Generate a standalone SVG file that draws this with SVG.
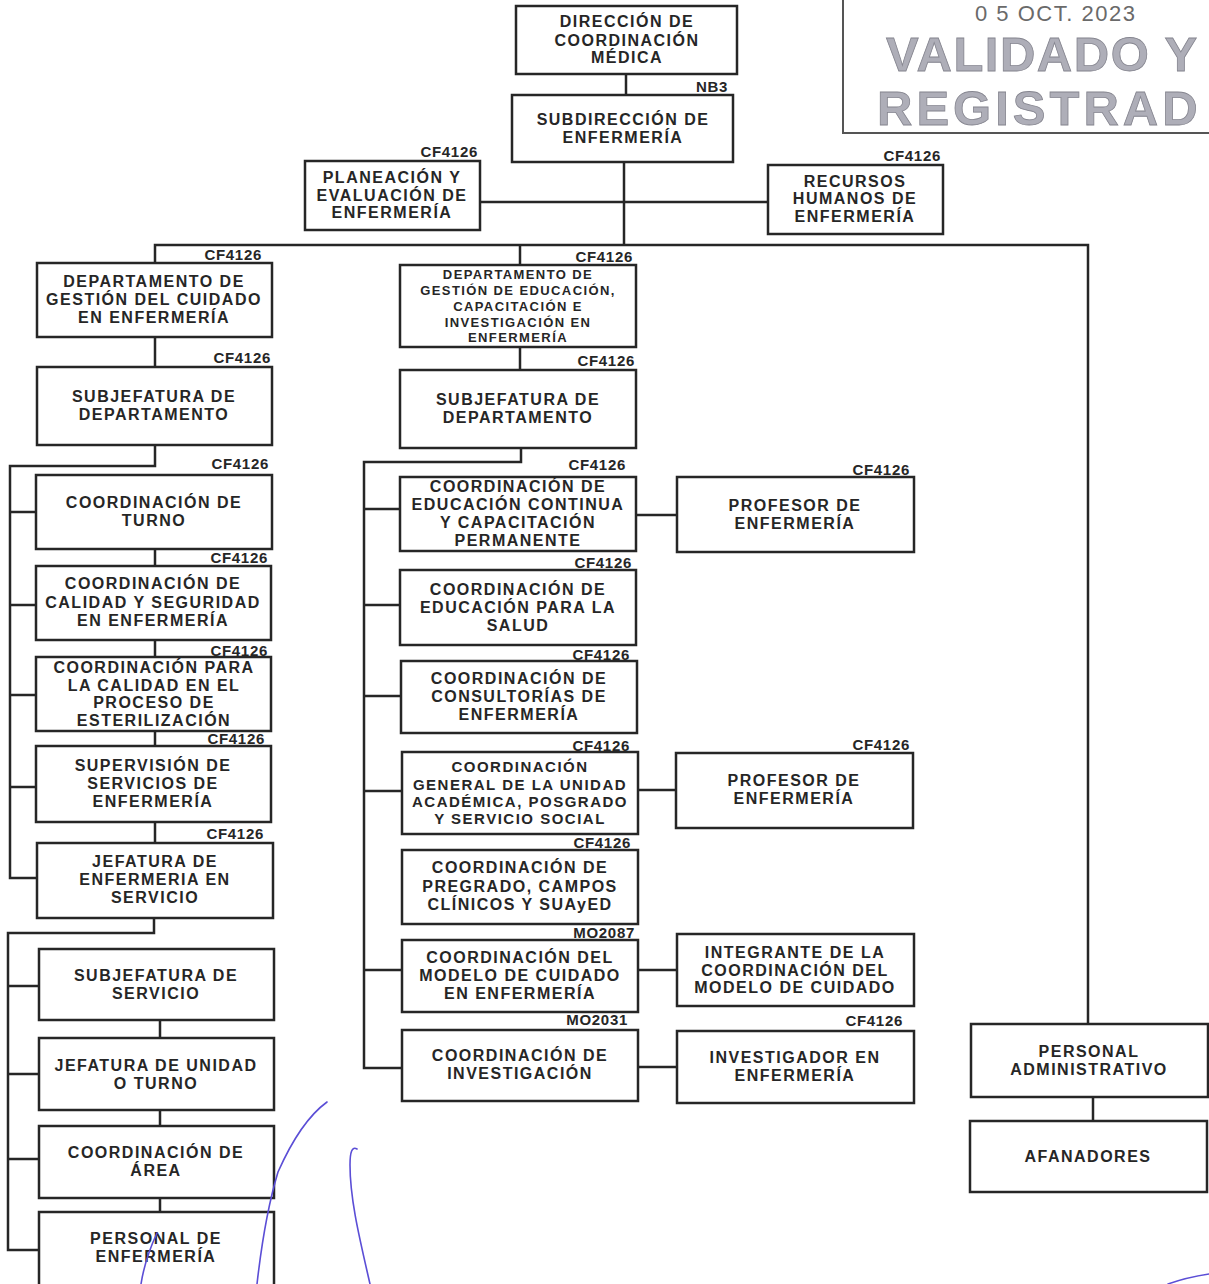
<svg xmlns="http://www.w3.org/2000/svg" width="1209" height="1284" viewBox="0 0 1209 1284">
<style>
.box{fill:#fff;stroke:#262626;stroke-width:2.5}
.ln{fill:none;stroke:#262626;stroke-width:2.5}
.t{font-family:"Liberation Sans",Arial,sans-serif;font-weight:bold;font-size:16px;fill:#262626;text-anchor:middle;letter-spacing:1.5px}
.s13{font-size:13px;letter-spacing:1.4px}
.s15{font-size:15px}
.lbl{font-family:"Liberation Sans",Arial,sans-serif;font-weight:bold;font-size:15px;fill:#262626;text-anchor:end;letter-spacing:0.7px}
.stamp{font-family:"Liberation Sans",Arial,sans-serif;font-weight:bold;font-size:49px;fill:#aeaeb8;stroke:#85858f;stroke-width:0.8}
.pen{fill:none;stroke:#5b4ed6;stroke-width:1.6;stroke-linecap:round}
</style>
<rect width="1209" height="1284" fill="#fff"/>
<g id="stamp">
<path d="M843,0 V133 H1209" fill="none" stroke="#555" stroke-width="2"/>
<text x="975" y="21" font-family="Liberation Sans,Arial,sans-serif" font-size="22" fill="#6a6a6a" letter-spacing="1.5">0 5 OCT. 2023</text>
<text class="stamp" x="886" y="71" letter-spacing="1.5">VALIDADO Y</text>
<text class="stamp" x="877" y="125" letter-spacing="4">REGISTRAD</text>
</g>
<g id="connectors">
<path class="ln" d="M626,74 V95"/>
<path class="ln" d="M624,162 V245"/>
<path class="ln" d="M480,202 H768"/>
<path class="ln" d="M155,263 V245 H1088 V1024"/>
<path class="ln" d="M520,245 V265"/>
<path class="ln" d="M155,337 V367"/>
<path class="ln" d="M520,347 V370"/>
<path class="ln" d="M155,445 V466 H10 V878 H37"/>
<path class="ln" d="M10,512 H36 M10,605 H36 M10,695 H36 M10,787 H36"/>
<path class="ln" d="M155,549 V566 M155,640 V657 M155,731 V746 M155,822 V843"/>
<path class="ln" d="M154,918 V933 H8 V1250 H39"/>
<path class="ln" d="M8,986 H39 M8,1074 H39 M8,1159 H39"/>
<path class="ln" d="M160,1020 V1038 M160,1110 V1126 M160,1198 V1212"/>
<path class="ln" d="M521,448 V462 H364 V1068 H402"/>
<path class="ln" d="M364,509 H400 M364,605 H400 M364,696 H401 M364,791 H402 M364,970 H402"/>
<path class="ln" d="M636,515 H677 M638,790 H676 M638,970 H677 M638,1067 H677"/>
<path class="ln" d="M1093,1097 V1121"/>
</g>
<g id="n-direccion"><rect class="box" x="516" y="6" width="221" height="68"/>
<text class="t" x="627"><tspan x="627" y="27">DIRECCIÓN DE</tspan><tspan x="627" y="46">COORDINACIÓN</tspan><tspan x="627" y="63">MÉDICA</tspan></text></g>
<g id="n-subdireccion"><rect class="box" x="512" y="95" width="221" height="67"/>
<text class="lbl" x="728" y="92">NB3</text>
<text class="t"><tspan x="623" y="125">SUBDIRECCIÓN DE</tspan><tspan x="623" y="143">ENFERMERÍA</tspan></text></g>
<g id="n-planeacion"><rect class="box" x="305" y="161" width="175" height="69"/>
<text class="lbl" x="478" y="157">CF4126</text>
<text class="t"><tspan x="392" y="183">PLANEACIÓN Y</tspan><tspan x="392" y="201">EVALUACIÓN DE</tspan><tspan x="392" y="218">ENFERMERÍA</tspan></text></g>
<g id="n-recursos"><rect class="box" x="768" y="165" width="175" height="69"/>
<text class="lbl" x="941" y="161">CF4126</text>
<text class="t"><tspan x="855" y="187">RECURSOS</tspan><tspan x="855" y="204">HUMANOS DE</tspan><tspan x="855" y="222">ENFERMERÍA</tspan></text></g>
<g id="n-dept-cuidado"><rect class="box" x="37" y="263" width="235" height="74"/>
<text class="lbl" x="262" y="260">CF4126</text>
<text class="t"><tspan x="154" y="287">DEPARTAMENTO DE</tspan><tspan x="154" y="305">GESTIÓN DEL CUIDADO</tspan><tspan x="154" y="323">EN ENFERMERÍA</tspan></text></g>
<g id="n-dept-educacion"><rect class="box" x="400" y="265" width="236" height="82"/>
<text class="lbl" x="633" y="262">CF4126</text>
<text class="t s13"><tspan x="518" y="279">DEPARTAMENTO DE</tspan><tspan x="518" y="295">GESTIÓN DE EDUCACIÓN,</tspan><tspan x="518" y="311">CAPACITACIÓN E</tspan><tspan x="518" y="327">INVESTIGACIÓN EN</tspan><tspan x="518" y="342">ENFERMERÍA</tspan></text></g>
<g id="n-subjef-izq"><rect class="box" x="37" y="367" width="235" height="78"/>
<text class="lbl" x="271" y="363">CF4126</text>
<text class="t"><tspan x="154" y="402">SUBJEFATURA DE</tspan><tspan x="154" y="420">DEPARTAMENTO</tspan></text></g>
<g id="n-subjef-centro"><rect class="box" x="400" y="370" width="236" height="78"/>
<text class="lbl" x="635" y="366">CF4126</text>
<text class="t"><tspan x="518" y="405">SUBJEFATURA DE</tspan><tspan x="518" y="423">DEPARTAMENTO</tspan></text></g>
<g id="n-coord-turno"><rect class="box" x="36" y="475" width="236" height="74"/>
<text class="lbl" x="269" y="469">CF4126</text>
<text class="t"><tspan x="154" y="508">COORDINACIÓN DE</tspan><tspan x="154" y="526">TURNO</tspan></text></g>
<g id="n-coord-calidad"><rect class="box" x="36" y="566" width="235" height="74"/>
<text class="lbl" x="268" y="563">CF4126</text>
<text class="t"><tspan x="153" y="589">COORDINACIÓN DE</tspan><tspan x="153" y="608">CALIDAD Y SEGURIDAD</tspan><tspan x="153" y="626">EN ENFERMERÍA</tspan></text></g>
<g id="n-coord-esterilizacion"><rect class="box" x="36" y="657" width="235" height="74"/>
<text class="lbl" x="268" y="656">CF4126</text>
<text class="t"><tspan x="154" y="673">COORDINACIÓN PARA</tspan><tspan x="154" y="691">LA CALIDAD EN EL</tspan><tspan x="154" y="708">PROCESO DE</tspan><tspan x="154" y="726">ESTERILIZACIÓN</tspan></text></g>
<g id="n-supervision"><rect class="box" x="36" y="746" width="235" height="76"/>
<text class="lbl" x="265" y="744">CF4126</text>
<text class="t"><tspan x="153" y="771">SUPERVISIÓN DE</tspan><tspan x="153" y="789">SERVICIOS DE</tspan><tspan x="153" y="807">ENFERMERÍA</tspan></text></g>
<g id="n-jefatura-enf"><rect class="box" x="37" y="843" width="236" height="75"/>
<text class="lbl" x="264" y="839">CF4126</text>
<text class="t"><tspan x="155" y="867">JEFATURA DE</tspan><tspan x="155" y="885">ENFERMERIA EN</tspan><tspan x="155" y="903">SERVICIO</tspan></text></g>
<g id="n-subjef-servicio"><rect class="box" x="39" y="949" width="235" height="71"/>
<text class="t"><tspan x="156" y="981">SUBJEFATURA DE</tspan><tspan x="156" y="999">SERVICIO</tspan></text></g>
<g id="n-jefatura-unidad"><rect class="box" x="39" y="1038" width="235" height="72"/>
<text class="t"><tspan x="156" y="1071">JEFATURA DE UNIDAD</tspan><tspan x="156" y="1089">O TURNO</tspan></text></g>
<g id="n-coord-area"><rect class="box" x="39" y="1126" width="235" height="72"/>
<text class="t"><tspan x="156" y="1158">COORDINACIÓN DE</tspan><tspan x="156" y="1176">ÁREA</tspan></text></g>
<g id="n-personal-enf"><rect class="box" x="39" y="1212" width="235" height="80"/>
<text class="t"><tspan x="156" y="1244">PERSONAL DE</tspan><tspan x="156" y="1262">ENFERMERÍA</tspan></text></g>
<g id="n-educ-continua"><rect class="box" x="400" y="477" width="236" height="74"/>
<text class="lbl" x="626" y="470">CF4126</text>
<text class="t"><tspan x="518" y="492">COORDINACIÓN DE</tspan><tspan x="518" y="510">EDUCACIÓN CONTINUA</tspan><tspan x="518" y="528">Y CAPACITACIÓN</tspan><tspan x="518" y="546">PERMANENTE</tspan></text></g>
<g id="n-profesor-1"><rect class="box" x="677" y="477" width="237" height="75"/>
<text class="lbl" x="910" y="475">CF4126</text>
<text class="t"><tspan x="795" y="511">PROFESOR DE</tspan><tspan x="795" y="529">ENFERMERÍA</tspan></text></g>
<g id="n-educ-salud"><rect class="box" x="400" y="570" width="236" height="75"/>
<text class="lbl" x="632" y="568">CF4126</text>
<text class="t"><tspan x="518" y="595">COORDINACIÓN DE</tspan><tspan x="518" y="613">EDUCACIÓN PARA LA</tspan><tspan x="518" y="631">SALUD</tspan></text></g>
<g id="n-consultorias"><rect class="box" x="401" y="661" width="236" height="72"/>
<text class="lbl" x="630" y="660">CF4126</text>
<text class="t"><tspan x="519" y="684">COORDINACIÓN DE</tspan><tspan x="519" y="702">CONSULTORÍAS DE</tspan><tspan x="519" y="720">ENFERMERÍA</tspan></text></g>
<g id="n-unidad-academica"><rect class="box" x="402" y="752" width="236" height="82"/>
<text class="lbl" x="630" y="751">CF4126</text>
<text class="t s15"><tspan x="520" y="772">COORDINACIÓN</tspan><tspan x="520" y="790">GENERAL DE LA UNIDAD</tspan><tspan x="520" y="807">ACADÉMICA, POSGRADO</tspan><tspan x="520" y="824">Y SERVICIO SOCIAL</tspan></text></g>
<g id="n-profesor-2"><rect class="box" x="676" y="753" width="237" height="75"/>
<text class="lbl" x="910" y="750">CF4126</text>
<text class="t"><tspan x="794" y="786">PROFESOR DE</tspan><tspan x="794" y="804">ENFERMERÍA</tspan></text></g>
<g id="n-pregrado"><rect class="box" x="402" y="850" width="236" height="74"/>
<text class="lbl" x="631" y="848">CF4126</text>
<text class="t"><tspan x="520" y="873">COORDINACIÓN DE</tspan><tspan x="520" y="892">PREGRADO, CAMPOS</tspan><tspan x="520" y="910">CLÍNICOS Y SUAyED</tspan></text></g>
<g id="n-modelo"><rect class="box" x="402" y="940" width="236" height="72"/>
<text class="lbl" x="635" y="938">MO2087</text>
<text class="t"><tspan x="520" y="963">COORDINACIÓN DEL</tspan><tspan x="520" y="981">MODELO DE CUIDADO</tspan><tspan x="520" y="999">EN ENFERMERÍA</tspan></text></g>
<g id="n-integrante"><rect class="box" x="677" y="934" width="237" height="72"/>
<text class="t"><tspan x="795" y="958">INTEGRANTE DE LA</tspan><tspan x="795" y="976">COORDINACIÓN DEL</tspan><tspan x="795" y="993">MODELO DE CUIDADO</tspan></text></g>
<g id="n-investigacion"><rect class="box" x="402" y="1030" width="236" height="71"/>
<text class="lbl" x="628" y="1025">MO2031</text>
<text class="t"><tspan x="520" y="1061">COORDINACIÓN DE</tspan><tspan x="520" y="1079">INVESTIGACIÓN</tspan></text></g>
<g id="n-investigador"><rect class="box" x="677" y="1031" width="237" height="72"/>
<text class="lbl" x="903" y="1026">CF4126</text>
<text class="t"><tspan x="795" y="1063">INVESTIGADOR EN</tspan><tspan x="795" y="1081">ENFERMERÍA</tspan></text></g>
<g id="n-personal-admin"><rect class="box" x="971" y="1024" width="237" height="73"/>
<text class="t"><tspan x="1089" y="1057">PERSONAL</tspan><tspan x="1089" y="1075">ADMINISTRATIVO</tspan></text></g>
<g id="n-afanadores"><rect class="box" x="970" y="1121" width="237" height="71"/>
<text class="t" x="1088" y="1162">AFANADORES</text></g>
<g id="pen">
<path class="pen" d="M327,1102 C305,1118 290,1145 278,1172 C268,1205 262,1240 257,1284"/>
<path class="pen" d="M157,1233 C150,1248 144,1265 141,1284"/>
<path class="pen" d="M357,1149 C352,1146 350,1152 350,1165 C350,1200 360,1240 370,1284"/>
<path class="pen" d="M1168,1284 C1182,1279 1196,1276 1209,1274"/>
</g>
</svg>
